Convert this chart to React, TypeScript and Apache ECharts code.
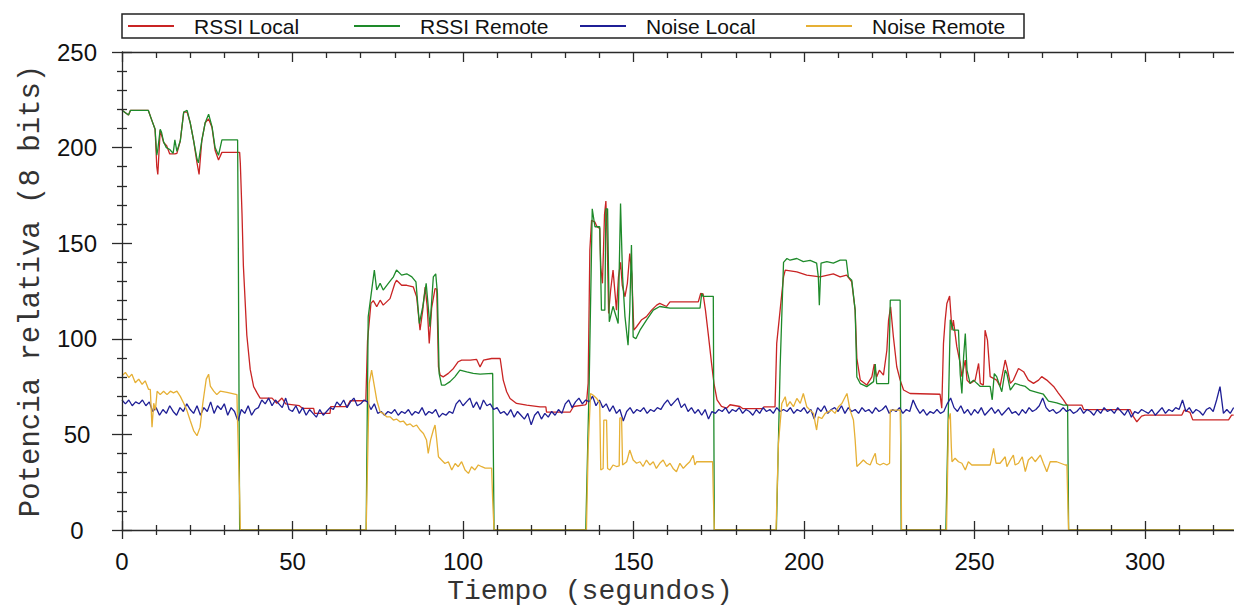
import React, { useEffect, useRef } from "react";
import * as echarts from "echarts";

// ---- Data (time in s, value in relative power 0..255) ----
const seriesNames = ["RSSI Local", "RSSI Remote", "Noise Local", "Noise Remote"];
const seriesColors = ["#c92424", "#1e8a2a", "#1f1f96", "#e6b035"];

const rssiLocal: number[][] = [
  [0, 219.5], [1.9, 217], [2.5, 219.5], [7.7, 219.5], [8.7, 214.5], [9.7, 209.6], [10.2, 190], [10.5, 186],
  [11.2, 209], [12.2, 202.7], [13.1, 201], [14, 196.7], [15.5, 196.7], [16.1, 197], [17.1, 203.6], [18.1, 218.6],
  [19.1, 218.6], [20, 213], [21, 203.6], [22, 192], [22.6, 186], [23.4, 203.6], [24.4, 213], [25.4, 215],
  [26.4, 210.5], [27.3, 198.6], [28.3, 193.5], [29.3, 197.5], [34.5, 197.5], [34.7, 191.8], [35.2, 165], [35.6, 138],
  [36.1, 120], [36.6, 102], [37.6, 84], [38.6, 75], [39.6, 71.7], [40.5, 69], [44, 69], [45.4, 66.3],
  [46.9, 69], [48, 66], [52, 65], [53, 63.6], [56.2, 63.6], [56.5, 61], [61, 61], [61.2, 64.5],
  [66, 64.5], [66.9, 67.6], [71.5, 67.6], [72, 99], [73, 118.5], [73.7, 120], [74.7, 116.8], [75.7, 120.2],
  [76.6, 117.6], [78.6, 121], [80, 128.9], [80.5, 130.6], [82, 128], [83.5, 128], [85.4, 127.2], [86.4, 122],
  [87.4, 104.5], [88.2, 115], [88.9, 127], [89.5, 116.8], [90.1, 97.6], [90.8, 116], [91.8, 126.3], [92.3, 126],
  [92.8, 85.3], [93.3, 81], [94.2, 80.1], [95.7, 81.9], [97.2, 84.5], [98.6, 88], [99.6, 88.8], [102.1, 88.8],
  [104, 89.2], [105, 85.3], [106, 88.8], [108.4, 89.7], [110.9, 89.7], [111.8, 78.4], [112.8, 72.3], [113.8, 68.8],
  [115.7, 66.2], [118.7, 65.3], [122.6, 64.4], [124.3, 64.4], [124.5, 61.6], [131.4, 61.6], [132.4, 64.6], [135.8, 65.4],
  [136.2, 66], [136.7, 76.7], [137.2, 146.4], [137.7, 162], [138.7, 161], [139.3, 158.6], [140.1, 157.7], [140.4, 137.6],
  [140.9, 129], [141.5, 165], [141.9, 172], [142.3, 150], [142.7, 113.2], [143.3, 125.5], [144, 136], [145, 115],
  [145.6, 132.4], [146.2, 140], [146.7, 128], [147.5, 122], [148.2, 129], [148.9, 144.6], [149.5, 134], [150.1, 104.5],
  [150.9, 106.3], [152.4, 110], [153.8, 111.6], [155.3, 115], [156.8, 117.6], [157.7, 118.5], [159.7, 116.9], [160.7, 119.3],
  [169, 119.3], [169.7, 123.7], [170.4, 123.5], [171.1, 115], [171.9, 102.8], [172.9, 87], [173.6, 76.6], [174.5, 68],
  [175.8, 64.6], [177.3, 63.7], [178.3, 65.5], [181.2, 64.6], [182, 63.5], [188.1, 63.5], [188.2, 64.4], [191.5, 64.4],
  [192, 97.6], [193, 115], [194, 132.4], [194.5, 135.9], [197.9, 135], [200.8, 133.3], [204.7, 132.4], [208.6, 134],
  [210.6, 132.4], [212.5, 133.3], [214, 129.8], [215, 115], [215.5, 89.8], [216.5, 78.4], [218.4, 75.8], [219.9, 80.1],
  [220.6, 86.8], [221.3, 80], [222.1, 83.6], [223.3, 81], [224.3, 94], [224.8, 109.8], [225.4, 116.7], [226.2, 101.3],
  [227.2, 85.4], [228.2, 78.4], [229.2, 73.2], [231.1, 71.4], [239.9, 71], [240.4, 63.7], [240.9, 97.6], [241.4, 109.8],
  [241.9, 118.5], [242.7, 122.4], [243.4, 104.5], [243.8, 109.8], [244.8, 96], [245.8, 87.1], [246.3, 80.2], [247.3, 88.9],
  [247.8, 78.4], [248.7, 76.7], [250.2, 78.4], [251.2, 87.1], [251.7, 76.7], [252.6, 75.8], [253.1, 104.5], [253.8, 99.3],
  [254.6, 80.2], [256.5, 78.4], [257.5, 75.1], [259, 88.9], [259.5, 85.4], [260.5, 76.7], [261.4, 78.4], [262.9, 84.5],
  [264.4, 82.8], [265.8, 78.4], [267.3, 76.7], [268.8, 78.4], [269.7, 80.2], [271.2, 78.4], [273.2, 75.1], [274.6, 71.6],
  [276.1, 68.1], [277.1, 65.3], [281.5, 65.3], [282, 63], [295.6, 63], [296.6, 59.3], [297.6, 56.6], [299, 59.6],
  [300, 60.1], [310.8, 60.1], [311.5, 62.7], [313.2, 61.5], [314, 57.6], [324.5, 57.6], [325.4, 60.1], [326, 60.1],
];

const rssiRemote: number[][] = [
  [0, 219.5], [1.9, 217], [2.5, 219.5], [7.7, 219.5], [8.7, 214.5], [9.7, 209.6], [10.2, 196], [10.5, 199],
  [11.2, 209.6], [11.6, 208], [12.2, 203], [13, 200], [14, 199], [15, 197], [15.5, 204], [16.1, 198],
  [17.1, 203.6], [18.1, 218.6], [19.1, 219.5], [20, 213], [21, 203.6], [22, 194], [22.4, 192], [23.4, 203.6],
  [24.4, 213], [25.4, 217.5], [26.4, 211], [27.3, 200], [28.3, 196], [29.3, 204], [33.9, 204], [34.1, 152],
  [34.5, 0], [71.6, 0], [72.2, 111.5], [72.9, 121], [74, 136], [74.7, 125.5], [75.7, 129], [76.6, 125.5],
  [78.1, 129], [79.6, 132.4], [80.5, 136], [82, 133.3], [83.5, 134], [85, 132.4], [86.2, 129.8], [87.2, 108],
  [88.2, 116.8], [89.2, 129], [89.8, 116.8], [90.3, 106.3], [91.3, 132.4], [92, 134], [92.5, 123.7], [93, 81.9],
  [93.7, 75.8], [94.7, 75.8], [96.2, 77.6], [97.6, 80.1], [99.1, 83.6], [101.1, 82.7], [103, 81.9], [105, 81.5],
  [108.7, 81.9], [109.1, 0], [136, 0], [137, 76.7], [137.9, 168], [138.7, 158.6], [140.1, 158.6], [140.6, 115],
  [141.6, 115], [141.9, 168], [142.4, 168], [142.9, 108.9], [144, 117], [145.5, 108], [146.2, 170.8], [146.8, 132.4],
  [147.5, 111.6], [148.4, 96.7], [148.9, 115], [149.4, 149], [149.9, 101], [150.7, 100], [151.9, 104.5], [153.8, 109.8],
  [155.8, 115], [157.7, 116.9], [160.7, 116], [169.5, 116], [170, 123.7], [170.4, 122.2], [173.4, 122.2], [173.7, 0],
  [191.9, 0], [193, 85], [194, 140], [195, 142], [195.9, 141.1], [197.9, 142], [199.8, 140.4], [201.8, 141],
  [203.7, 139.6], [204.2, 132.4], [204.5, 117.6], [205, 139.6], [206.7, 140.4], [208.6, 139.6], [210.6, 141.1], [212.4, 141.1],
  [213, 132.4], [214, 130.7], [215, 115], [215.5, 80], [216.5, 76.6], [218.4, 75], [220.4, 77.6], [220.9, 86.8],
  [221.3, 76.6], [224.8, 76.6], [225.3, 120.2], [228.2, 120.2], [228.5, 0], [241.6, 0], [242.3, 60], [242.9, 110],
  [243.8, 104.5], [245.3, 104.5], [245.8, 81.8], [246.3, 71.4], [246.8, 90.5], [247.3, 102.8], [247.8, 83.6], [248.7, 76.7],
  [249.7, 78.4], [250.7, 76.7], [251.7, 75.1], [254.6, 75.1], [255.2, 68.1], [255.8, 81.8], [256.5, 80.2], [258, 72.3],
  [259, 83.6], [259.5, 81.8], [260.5, 73.2], [261.9, 76.7], [263.4, 75.8], [264.9, 75.1], [266.3, 73], [268.3, 72],
  [270.2, 71], [271.7, 67.4], [274.1, 66.5], [276.1, 65.3], [277.3, 65.3], [277.6, 0], [326, 0],
];

// one reading per second, t = 0 .. 326
const noiseLocal: number[] = [
  68, 66, 68, 65, 67, 66, 68, 65, 67, 62,
  64, 60, 63, 61, 65, 62, 60, 64, 62, 66,
  63, 61, 65, 60, 64, 62, 67, 61, 65, 63,
  66, 60, 64, 62, 57, 63, 61, 65, 60, 63,
  64, 68, 66, 69, 65, 68, 66, 64, 69, 63,
  62, 65, 61, 64, 60, 63, 61, 59, 63, 60,
  62, 64, 63, 67, 65, 68, 64, 67, 69, 65,
  66, 68, 67, 63, 66, 61, 62, 60, 62, 61,
  63, 60, 62, 61, 63, 60, 62, 61, 64, 60,
  62, 61, 63, 59, 61, 60, 62, 61, 66, 68,
  65, 67, 69, 64, 67, 63, 68, 65, 66, 63,
  64, 61, 62, 60, 63, 59, 62, 60, 58, 61,
  55, 60, 62, 58, 61, 59, 62, 60, 63, 61,
  66, 68, 64, 67, 69, 66, 68, 67, 70, 65,
  68, 64, 66, 62, 65, 61, 63, 57, 62, 64,
  61, 63, 62, 64, 61, 63, 62, 64, 63, 66,
  68, 65, 67, 69, 64, 66, 62, 64, 61, 63,
  60, 63, 58, 62, 61, 63, 62, 64, 61, 63,
  62, 64, 61, 63, 62, 60, 63, 61, 64, 62,
  63, 61, 64, 62, 63, 62, 64, 61, 63, 62,
  64, 61, 63, 58, 64, 62, 65, 61, 63, 64,
  62, 65, 61, 64, 62, 63, 61, 64, 62, 63,
  61, 64, 62, 63, 65, 61, 63, 62, 64, 61,
  63, 62, 68, 64, 61, 63, 60, 62, 61, 63,
  61, 62, 66, 69, 64, 62, 65, 61, 63, 60,
  63, 61, 64, 60, 62, 64, 61, 63, 60, 62,
  64, 61, 62, 60, 63, 61, 64, 62, 63, 65,
  69, 64, 62, 63, 61, 62, 64, 62, 63, 61,
  62, 64, 61, 63, 62, 60, 63, 61, 64, 62,
  63, 61, 64, 62, 60, 63, 59, 62, 61, 63,
  62, 61, 63, 60, 62, 64, 61, 63, 62, 64,
  63, 68, 62, 64, 61, 63, 62, 60, 63, 64,
  62, 68, 75, 61, 63, 61, 64,
];

const noiseRemote: number[][] = [
  [0, 80.6], [1, 82.4], [2, 79.7], [2.9, 81.5], [3.9, 77], [4.9, 78.9], [5.9, 76.2], [6.8, 78],
  [7.8, 73.5], [8.3, 73.5], [8.8, 53.8], [9.3, 66.3], [9.8, 62.7], [10.3, 72.6], [11.2, 70.8], [12.2, 72.6],
  [13.2, 70.8], [14.2, 72.6], [15.1, 71.7], [16.1, 72.6], [17.1, 69.9], [18.1, 66.3], [19, 62.7], [20, 57.3],
  [21, 52], [22, 49.3], [22.9, 53.8], [23.7, 66.3], [24.7, 78.9], [25.4, 81.5], [25.9, 75.3], [26.9, 72.6],
  [27.8, 70.8], [28.8, 72.6], [30.8, 72], [33.7, 70.8], [33.9, 55.6], [34.5, 17.9], [34.7, 0], [71.6, 0],
  [72.5, 76.7], [73.2, 83.6], [73.7, 78.4], [74.7, 68], [75.7, 61.8], [76.6, 61], [77.6, 59.2], [78.6, 59.2],
  [79.6, 57.5], [80.5, 58], [81.5, 56.6], [82.5, 57], [83.5, 54.9], [84.5, 55.5], [85.4, 54], [86.4, 54.9],
  [87.4, 52.3], [88.4, 50.5], [89.3, 47.1], [89.8, 40.1], [90.5, 47.1], [91.3, 52.3], [91.8, 54.9], [92.3, 47.1],
  [92.8, 38.3], [93.7, 36.6], [94.7, 34.8], [95.7, 35.7], [96.7, 31.4], [97.7, 34.8], [98.6, 33.1], [99.6, 35.7],
  [100.6, 31.4], [101.6, 29.6], [102.5, 33.1], [103.5, 31.4], [104.5, 34], [105.5, 33.1], [106.5, 32.4], [108.4, 32.4],
  [108.7, 15.7], [109.1, 0], [136.2, 0], [136.7, 41.8], [137.4, 71.4], [138.2, 70.5], [139.2, 68.8], [140.1, 66.2],
  [140.4, 31.4], [141.1, 32.2], [141.3, 57.5], [142.1, 57.5], [142.4, 32.2], [143.1, 31.4], [144, 34], [145, 33.2],
  [145.8, 33.5], [146, 58.6], [146.5, 58.6], [146.8, 34], [148, 35.7], [148.9, 41.8], [149.9, 36.6], [150.9, 34.9],
  [151.9, 35.7], [152.8, 33.2], [153.8, 36.6], [154.8, 34], [155.8, 35.7], [156.7, 32.2], [157.7, 34.9], [158.7, 36.6],
  [159.7, 33.2], [160.7, 34.9], [161.6, 32.2], [162.6, 30.5], [163.6, 34.9], [164.6, 32.2], [165.5, 34], [166.5, 35.7],
  [167.5, 39.1], [168, 34], [168.5, 35.7], [173.2, 35.7], [173.4, 19.1], [173.7, 0], [191.8, 0], [192.5, 45.3],
  [193.5, 66.2], [194.5, 69.7], [195, 64.5], [195.9, 67.1], [196.9, 64.5], [197.9, 68.8], [198.9, 66.2], [199.8, 71.4],
  [200.8, 64.5], [201.8, 62.7], [202.8, 61], [203.3, 55.8], [203.7, 52.3], [204.2, 59.2], [205.2, 58.3], [206.2, 61],
  [207.2, 61.9], [208.1, 62.7], [209.1, 61], [210.1, 64.5], [211.1, 66.2], [212.1, 69.7], [212.6, 71.4], [213.5, 62.7],
  [214.5, 57.5], [215, 47.1], [215.5, 33.2], [216.5, 34.9], [217.4, 36.6], [218.4, 34.9], [219.4, 34], [220.4, 38.3],
  [220.9, 40.1], [221.3, 34.9], [222.3, 34], [223.3, 34.9], [224.3, 34], [225.1, 34.9], [225.3, 62.7], [228.2, 62.7],
  [228.5, 31.4], [228.6, 0], [241.8, 0], [241.9, 10.4], [242.4, 57.5], [242.9, 61], [243.2, 43.6], [243.4, 35.7],
  [244.3, 37.5], [245.3, 35.7], [246.3, 34.9], [247.3, 31.4], [248.2, 35.7], [249.2, 34], [254.6, 34], [255.6, 42.7],
  [256.3, 34.9], [257.5, 34.9], [259, 38.3], [259.5, 33.1], [260.5, 36.6], [261.4, 39.2], [261.9, 34], [262.9, 34.9],
  [264, 38.3], [264.9, 30.5], [265.8, 36.6], [266.8, 38.3], [267.8, 35.7], [269.3, 39.2], [270.2, 34.9], [271.2, 30.5],
  [272.2, 35.7], [274.1, 35.7], [276.6, 34], [277.1, 34], [277.3, 19.2], [277.6, 0], [326, 0],
];

const xMin = 0;
const xMax = 350;
const xStep = 50;
const yMin = 0;
const yMax = 250;
const yStep = 50;

const xTitle = "Tiempo (segundos)";
const yTitle = "Potencia relativa (8 bits)";

export default function App() {
  const ref = useRef<HTMLDivElement>(null);

  useEffect(() => {
    document.body.style.margin = "0";
    const chart = echarts.init(ref.current!, null, { renderer: "svg" });
    const axisColor = "#2a2a2a";
    const lineStyle = { color: axisColor, width: 1.3 };
    const labelFont = { fontSize: 24, fontFamily: "Liberation Sans, Arial, sans-serif", color: "#111" };
    const titleFont = "Liberation Mono, DejaVu Sans Mono, monospace";

    const baseX = {
      type: "value" as const,
      min: xMin,
      max: xMax,
      interval: xStep,
      splitLine: { show: false },
      minorSplitLine: { show: false },
      gridIndex: 0,
    };
    const baseY = {
      type: "value" as const,
      min: yMin,
      max: yMax,
      interval: yStep,
      splitLine: { show: false },
      minorSplitLine: { show: false },
      gridIndex: 0,
    };

    const noiseLocalPairs = noiseLocal.map((v, i) => [i, v]);
    const dataSets = [rssiLocal, rssiRemote, noiseLocalPairs, noiseRemote];

    chart.setOption({
      animation: false,
      backgroundColor: "#ffffff",
      grid: {
        left: 122,
        right: -81.5,
        top: 52,
        bottom: 77,
        containLabel: false,
        outerBoundsMode: "none",
      },
      legend: {
        data: seriesNames,
        left: 122,
        top: 14,
        orient: "horizontal",
        padding: [1, 12, 1, 6],
        itemGap: 20,
        itemWidth: 46,
        itemHeight: 2,
        icon: "rect",
        borderColor: "#222",
        borderWidth: 1.5,
        borderRadius: 0,
        selectedMode: false,
        textStyle: {
          fontSize: 21,
          fontFamily: "Liberation Sans, Arial, sans-serif",
          color: "#111",
          width: 140,
          padding: [0, 0, 0, 15],
          lineHeight: 22,
        },
      },
      xAxis: [
        {
          ...baseX,
          position: "bottom",
          z: 5,
          axisLine: { show: true, lineStyle },
          axisTick: { show: true, inside: false, length: 9, lineStyle },
          minorTick: { show: true, splitNumber: 5, length: 5, lineStyle },
          axisLabel: { ...labelFont, lineHeight: 24, margin: 19, showMaxLabel: false },
        },
        {
          ...baseX,
          position: "bottom",
          z: 5,
          axisLine: { show: false },
          axisTick: { show: true, inside: true, length: 9, lineStyle },
          minorTick: { show: true, splitNumber: 5, length: 5, lineStyle },
          axisLabel: { show: false },
        },
        {
          ...baseX,
          position: "top",
          z: 5,
          axisLine: { show: true, lineStyle },
          axisTick: { show: true, inside: true, length: 10, lineStyle },
          minorTick: { show: true, splitNumber: 5, length: 6, lineStyle },
          axisLabel: { show: false },
        },
      ],
      yAxis: [
        {
          ...baseY,
          position: "left",
          z: 5,
          axisLine: { show: true, lineStyle },
          axisTick: { show: true, inside: false, length: 10, lineStyle },
          minorTick: { show: true, splitNumber: 5, length: 5, lineStyle },
          axisLabel: { ...labelFont, margin: 45, align: "center" },
          name: yTitle,
          nameLocation: "middle",
          nameGap: 75,
          nameRotate: 90,
          nameTextStyle: { fontSize: 29, fontFamily: titleFont, color: "#333" },
        },
        {
          ...baseY,
          position: "left",
          z: 5,
          axisLine: { show: false },
          axisTick: { show: true, inside: true, length: 10, lineStyle },
          minorTick: { show: true, splitNumber: 5, length: 5, lineStyle },
          axisLabel: { show: false },
        },
      ],
      graphic: [
        {
          type: "text",
          x: 590,
          y: 591,
          style: {
            text: xTitle,
            fontSize: 28,
            fontFamily: titleFont,
            fill: "#333",
            align: "center",
            verticalAlign: "middle",
          },
        },
      ],
      series: seriesNames.map((name, i) => ({
        name,
        type: "line",
        xAxisIndex: 0,
        yAxisIndex: 0,
        data: dataSets[i],
        showSymbol: false,
        symbol: "none",
        clip: true,
        z: 2 + i * 0.1,
        lineStyle: { color: seriesColors[i], width: 1.3 },
        itemStyle: { color: seriesColors[i] },
      })),
    });

    return () => chart.dispose();
  }, []);

  return <div ref={ref} style={{ width: 1234, height: 607 }} />;
}
